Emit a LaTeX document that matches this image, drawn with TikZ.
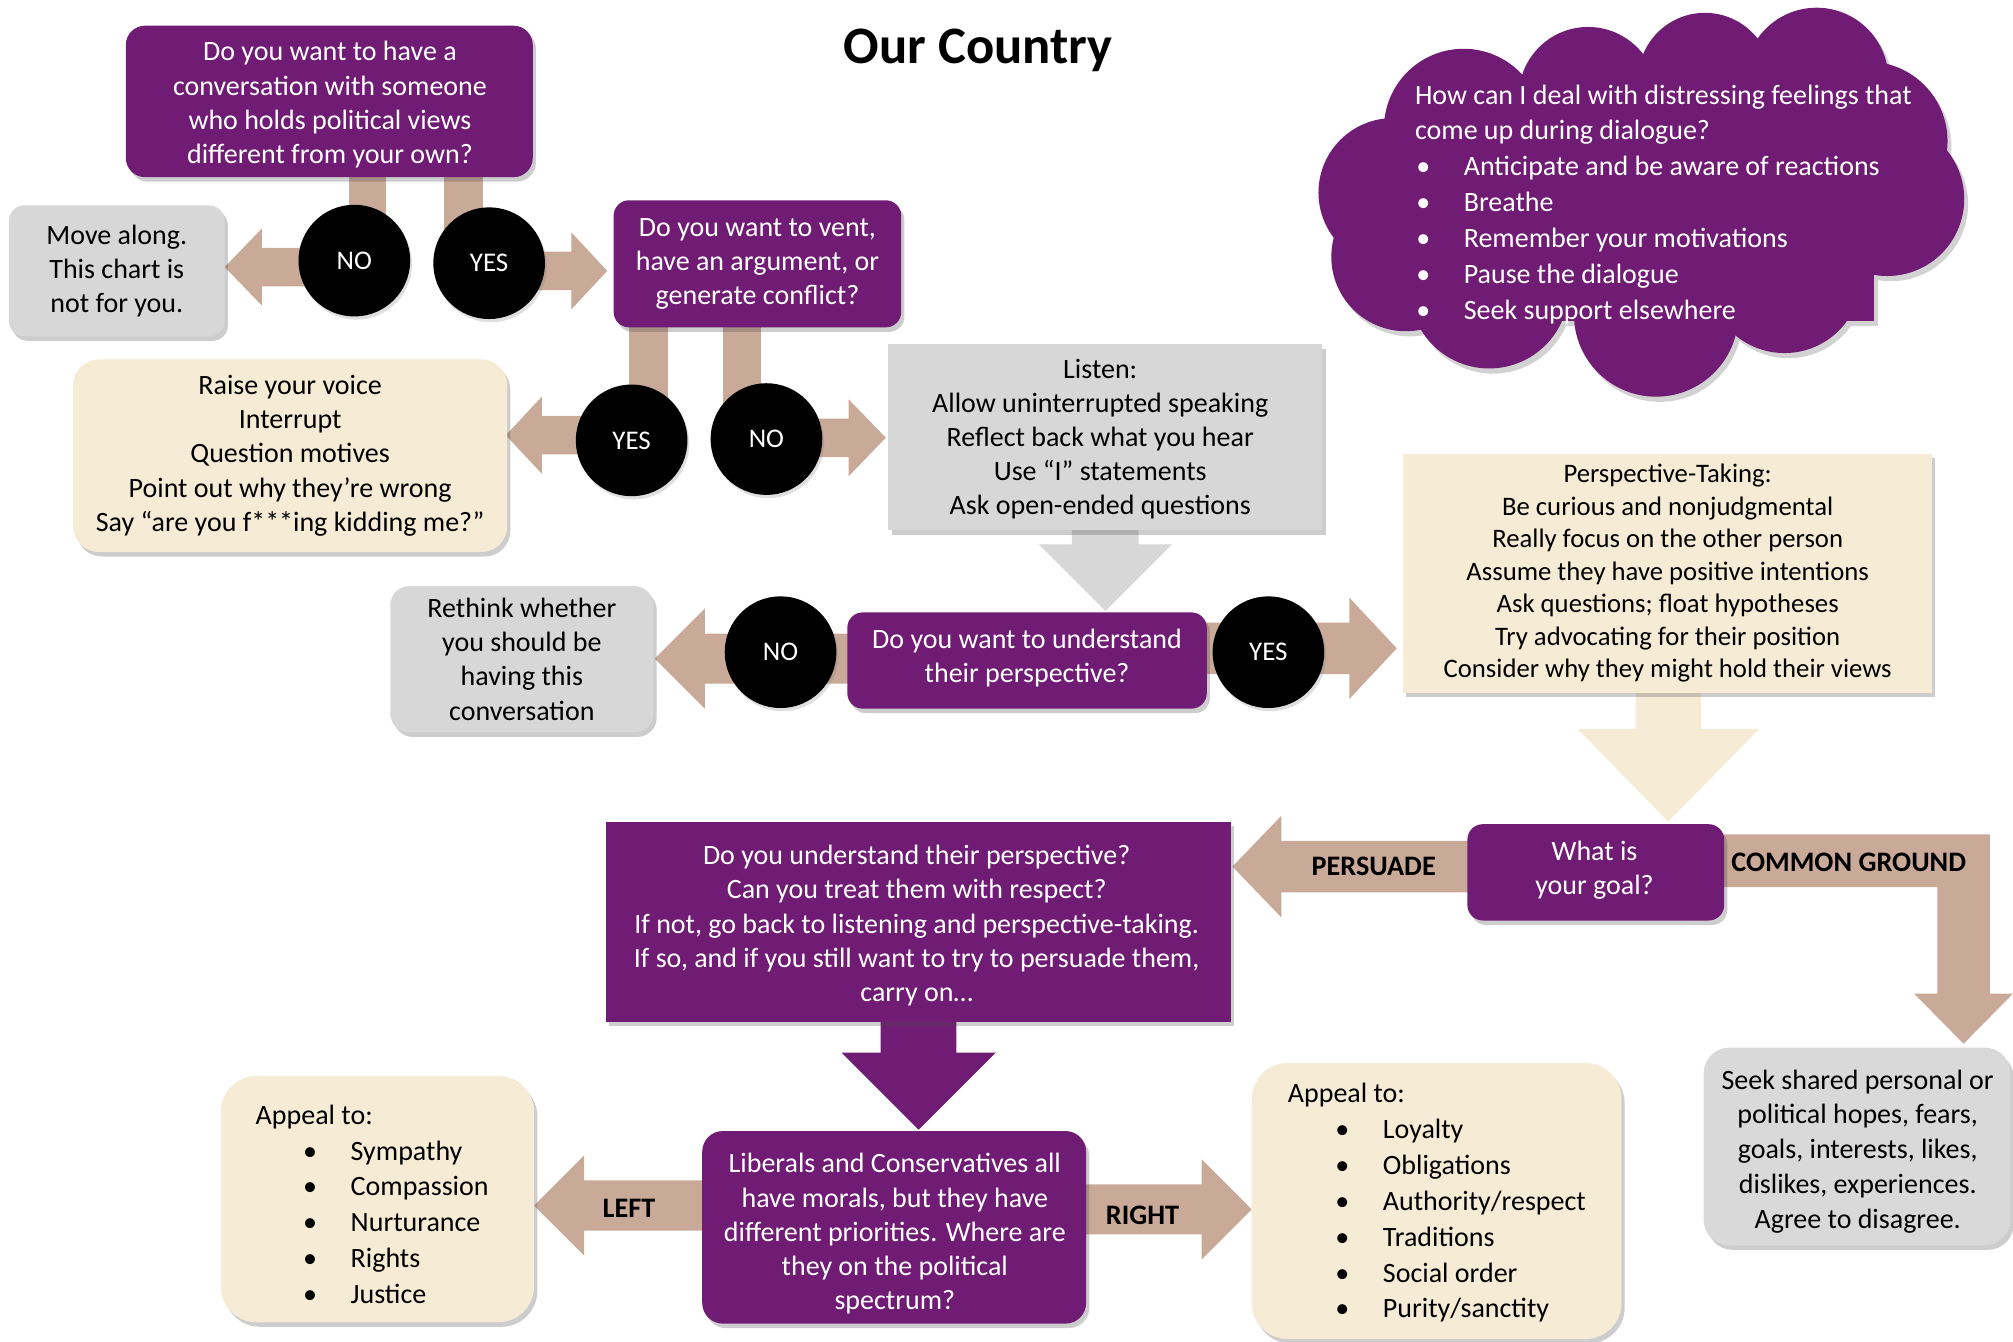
\documentclass[tikz,border=0pt]{standalone}
\usepackage{fontspec}
\setmainfont{Carlito}
\usetikzlibrary{shadows}
\definecolor{pur}{HTML}{701C74}
\definecolor{arrowtan}{HTML}{C9AA98}
\definecolor{boxgray}{HTML}{D8D7D8}
\definecolor{cream}{HTML}{F6ECD6}
% horizontal block arrow: [colour]{x start}{x head base}{x tip}{y}{shaft half}{head half}
\newcommand\blockH[7][arrowtan]{%
  \fill[#1] (#2,#5-#6) -- (#3,#5-#6) -- (#3,#5-#7) -- (#4,#5) -- (#3,#5+#7) -- (#3,#5+#6) -- (#2,#5+#6) -- cycle;}
% vertical block arrow: [colour]{x centre}{y start}{y head base}{y tip}{shaft half}{head half}
\newcommand\blockV[7][arrowtan]{%
  \fill[#1] (#2-#6,#3) -- (#2-#6,#4) -- (#2-#7,#4) -- (#2,#5) -- (#2+#7,#4) -- (#2+#6,#4) -- (#2+#6,#3) -- cycle;}
\newcommand\cloudlobes[1]{%
  \foreach \cx/\cy/\cr in {1140/100/62,1237/75/54,1328/62/52,1415/62/56,1455/110/62,1470/155/60,1390/215/60,1290/245/64,1160/225/62,1095/200/58,1085/150/58}
    {\fill[#1] (\cx,\cy) circle[radius=\cr pt];}
  \fill[#1] (1100,70) rectangle (1460,250);}
\tikzset{
  txt/.style={inner sep=0pt, align=center, font=\fontsize{21.8}{26.6}\selectfont},
  shad/.style={drop shadow={shadow xshift=2.5pt, shadow yshift=-3.5pt, opacity=0.28, fill=black!70}},
  purbox/.style={txt, fill=pur, text=white, shad},
  graybox/.style={txt, fill=boxgray, text=black, shad},
  creambox/.style={txt, fill=cream, text=black, shad},
  circ/.style={circle, fill=black, text=white, minimum size=87pt, inner sep=0pt,
    font=\fontsize{21}{25}\selectfont, drop shadow={shadow xshift=1.5pt, shadow yshift=-2.5pt, opacity=0.25}},
  lbl/.style={inner sep=0pt, font=\fontsize{22}{26}\selectfont\bfseries},
  bul/.style={inner sep=0pt, align=left, anchor=west, font=\fontsize{21.8}{27.9}\selectfont}
}
\newcommand\bitem[2][37pt]{\hspace*{#1}\makebox[37pt][l]{•}#2}
\begin{document}
\begin{tikzpicture}[x=1pt,y=-1pt]
\useasboundingbox (0,0) rectangle (1568,1045);
\fill[white] (0,0) rectangle (1568,1045);

% title
\node[inner sep=0pt, font=\fontsize{41}{48}\selectfont\bfseries] (title) at (762,39) {Our Country};

% cloud
\begin{scope}[transparency group, opacity=0.25, shift={(3,4)}]
  \cloudlobes{black!70}
\end{scope}
\cloudlobes{pur}
\node[bul, text=white] (cloudtxt) at (1102,159) {How can I deal with distressing feelings that\\come up during dialogue?\\
\bitem[1pt]{Anticipate and be aware of reactions}\\\bitem[1pt]{Breathe}\\\bitem[1pt]{Remember your motivations}\\\bitem[1pt]{Pause the dialogue}\\\bitem[1pt]{Seek support elsewhere}};

% ---- connectors (block arrows) ----
\fill[arrowtan] (272,130) rectangle (301,205);
\fill[arrowtan] (346,130) rectangle (376,207);
\blockH{276}{204}{175}{208}{15}{30}
\blockH{381}{445}{473}{211}{15}{30}
\fill[arrowtan] (490,250) rectangle (520,340);
\fill[arrowtan] (563,250) rectangle (593,340);
\blockH{492}{422}{394}{339}{15}{30}
\blockH{597}{661}{690}{341}{15}{30}
\blockH{662}{549}{510}{513}{19.5}{39}
\blockH{938}{1051}{1088}{505}{20}{39.5}
\blockV[boxgray]{861}{410}{424}{476}{26}{52}
\blockV[cream]{1299.5}{536}{568}{640}{25.5}{70.5}
\blockH{1145}{998}{960}{675}{20}{39.5}
\fill[arrowtan] (1341,650) -- (1550,650) -- (1550,774) -- (1568,774) -- (1529.5,813) -- (1491,774) -- (1509,774) -- (1509,691) -- (1341,691) -- cycle;
\blockV[pur]{715.5}{790}{820}{880}{29.5}{60}
\blockH{548}{455}{416}{939}{19.5}{39}
\blockH{844}{936}{975}{942}{19.5}{39}

% ---- boxes ----
\node[purbox, rounded corners=15pt, minimum width=317pt, minimum height=118pt] (q1) at (256.5,79) {};
\node[txt, text=white] (q1txt) at (257,81.5)
  {Do you want to have a\\conversation with someone\\who holds political views\\different from your own?};
\node[graybox, rounded corners=12pt, minimum width=168pt, minimum height=102pt] (move) at (91,211)
  {Move along.\\This chart is\\not for you.};
\node[purbox, rounded corners=12pt, minimum width=224pt, minimum height=99pt] (q2) at (590,205.5)
  {Do you want to vent,\\have an argument, or\\generate conflict?};
\node[creambox, rounded corners=20pt, minimum width=338pt, minimum height=150pt] (raise) at (226,355)
  {Raise your voice\\Interrupt\\Question motives\\Point out why they’re wrong\\Say “are you f***ing kidding me?”};
\node[graybox, minimum width=338pt, minimum height=145pt] (listen) at (861,340.5) {};
\node[txt] (listentxt) at (857,342)
  {Listen:\\Allow uninterrupted speaking\\Reflect back what you hear\\Use “I” statements\\Ask open-ended questions};
\node[graybox, rounded corners=15pt, minimum width=205pt, minimum height=114pt] (rethink) at (406.5,513.5)
  {Rethink whether\\you should be\\having this\\conversation};
\node[purbox, rounded corners=12pt, minimum width=280pt, minimum height=75pt] (q3) at (800,514.5) {};
\node[txt, text=white] (q3txt) at (800,512.5) {Do you want to understand\\their perspective?};
\node[creambox, minimum width=412pt, minimum height=186pt, font=\fontsize{20.8}{25.3}\selectfont] (persp) at (1299,446.5)
  {Perspective-Taking:\\Be curious and nonjudgmental\\Really focus on the other person\\Assume they have positive intentions\\Ask questions; float hypotheses\\Try advocating for their position\\Consider why they might hold their views};
\node[purbox, rounded corners=12pt, minimum width=200pt, minimum height=75pt] (goal) at (1243,679.5) {};
\node[txt, text=white] (goaltxt) at (1242,677.5) {What is\\your goal?};
\node[purbox, minimum width=487pt, minimum height=156pt] (persuade) at (715.5,718) {};
\node[txt, text=white] (persuadetxt) at (714,721)
  {Do you understand their perspective?\\Can you treat them with respect?\\If not, go back to listening and perspective-taking.\\If so, and if you still want to try to persuade them,\\carry on…};
\node[purbox, rounded corners=16pt, minimum width=299pt, minimum height=150pt] (lib) at (696.5,956) {};
\node[txt, text=white] (libtxt) at (697,961)
  {Liberals and Conservatives all\\have morals, but they have\\different priorities. Where are\\they on the political\\spectrum?};
\node[creambox, rounded corners=28pt, minimum width=244pt, minimum height=192pt] (appL) at (294,934) {};
\node[bul] (appLtxt) at (199,938) {Appeal to:\\\bitem{Sympathy}\\\bitem{Compassion}\\\bitem{Nurturance}\\\bitem{Rights}\\\bitem{Justice}};
\node[creambox, rounded corners=28pt, minimum width=288pt, minimum height=215pt] (appR) at (1119,935.5) {};
\node[bul] (appRtxt) at (1003,937) {Appeal to:\\\bitem{Loyalty}\\\bitem{Obligations}\\\bitem{Authority/respect}\\\bitem{Traditions}\\\bitem{Social order}\\\bitem{Purity/sanctity}};
\node[graybox, rounded corners=20pt, minimum width=239pt, minimum height=154pt, fill=boxgray!95!white] (seek) at (1446.5,893) {};
\node[txt, font=\fontsize{21.8}{27.2}\selectfont] (seektxt) at (1447,897)
  {Seek shared personal or\\political hopes, fears,\\goals, interests, likes,\\dislikes, experiences.\\Agree to disagree.};

% ---- decision circles ----
\node[circ] (no1) at (276,203) {NO};
\node[circ] (yes1) at (381,205) {YES};
\node[circ] (yes2) at (492,343) {YES};
\node[circ] (no2) at (597,342) {NO};
\node[circ] (no3) at (608,508) {NO};
\node[circ] (yes3) at (988,508) {YES};

% ---- arrow labels ----
\node[lbl] (lpers) at (1070,675) {PERSUADE};
\node[lbl] (lcommon) at (1440,672) {COMMON GROUND};
\node[lbl] (lleft) at (490,941) {LEFT};
\node[lbl] (lright) at (890,947) {RIGHT};
\end{tikzpicture}
\end{document}
